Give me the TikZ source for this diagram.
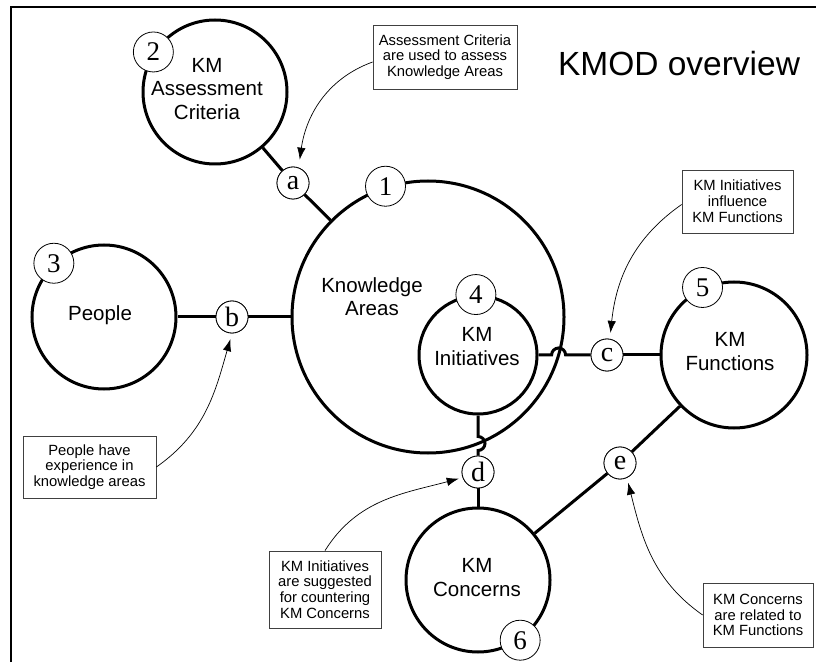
\documentclass[tikz,border=0pt]{standalone}
\usepackage{fontspec}
\setmainfont{Liberation Sans}
\newfontfamily\tagfont{Liberation Serif}
\usetikzlibrary{arrows.meta}

\begin{document}
\begin{tikzpicture}[x=1pt,y=1pt,
  big/.style={circle, draw, line width=3pt, inner sep=0pt, minimum size=#1},
  tag/.style={circle, draw, line width=0.8pt, fill=white, inner sep=0pt,
    minimum size=40pt, font=\tagfont\fontsize{27}{27}\selectfont},
  rel/.style={circle, draw, line width=0.8pt, fill=white, inner sep=0pt,
    minimum size=32pt, font=\tagfont\fontsize{28}{28}\selectfont},
  link/.style={line width=3pt},
  caption/.style={align=center, inner sep=0pt, font=\fontsize{20.5}{23.5}\selectfont},
  note/.style={draw=black!75, line width=0.8pt, align=center, inner sep=0pt,
    font=\fontsize{14.8}{15.8}\selectfont},
  callout/.style={line width=0.7pt, -{Latex[length=12pt,width=8.5pt]}},
]
\useasboundingbox (0,0) rectangle (816,662);

% frame lines along the top and the left
\draw[line width=1.3pt] (11,0) -- (11,655) -- (816,655);

% title
\node[anchor=base, inner sep=0pt, font=\fontsize{33.5}{33.5}\selectfont] (title) at (679,586) {KMOD overview};

% main entity circles
\node[big=272pt] (c1) at (428,345) {};
\node[big=144pt] (c2) at (215,570) {};
\node[big=144pt] (c3) at (104,345) {};
\node[big=118pt] (c4) at (478,307) {};
\node[big=146pt] (c5) at (734,307) {};
\node[big=144pt] (c6) at (478,82) {};

% entity names
\node[caption] (t1) at (372,365.5) {Knowledge\\Areas};
\node[caption] (t2) at (207,573) {KM\\Assessment\\Criteria};
\node[caption] (t3) at (100,347) {People};
\node[caption] (t4) at (477,315.5) {KM\\Initiatives};
\node[caption] (t5) at (730,310.5) {KM\\Functions};
\node[caption] (t6) at (477,84.5) {KM\\Concerns};

% relation markers
\node[rel] (a) at (293,479) {a};
\node[rel] (b) at (232,345) {b};
\node[rel] (c) at (607,307) {c};
\node[rel] (d) at (478,190) {d};
\node[rel] (e) at (620,199) {e};

% crossing points with the Knowledge Areas circle
\coordinate (hopc) at (558.6,307);
\coordinate (hopd) at (478,218.5);

% relations
\draw[link] (c2) -- (a) -- (c1);
\draw[link] (c3) -- (b) -- (c1);
\draw[link] (c4.east) -- ([xshift=-7pt]hopc) arc[start angle=180, end angle=0, radius=7pt] -- (c.west);
\draw[link] (c) -- (c5);
\draw[link] (c4.south) -- ([yshift=7pt]hopd) arc[start angle=90, end angle=-90, radius=7pt] -- (d.north);
\draw[link] (d) -- (c6);
\draw[link] (c6) -- (e) -- (c5);

% redraw markers on top of the relation lines
\node[rel] at (a) {a};
\node[rel] at (b) {b};
\node[rel] at (c) {c};
\node[rel] at (d) {d};
\node[rel] at (e) {e};

% number tags on the entity circles
\node[tag] (n1) at (c1.108) {1};
\node[tag] (n2) at (c2.147) {2};
\node[tag] (n3) at (c3.133) {3};
\node[tag] (n4) at (c4.92) {4};
\node[tag] (n5) at (c5.115) {5};
\node[tag] (n6) at (c6.-55) {6};

% explanatory notes
\node[note, minimum width=144pt, minimum height=64pt] (na) at (445,605)
  {Assessment Criteria\\are used to assess\\Knowledge Areas};
\node[note, minimum width=133pt, minimum height=62pt] (nb) at (89.5,195)
  {People have\\experience in\\knowledge areas};
\node[note, minimum width=111pt, minimum height=63pt] (nc) at (737.5,460.5)
  {KM Initiatives\\influence\\KM Functions};
\node[note, minimum width=112pt, minimum height=77pt] (nd) at (325,72.5)
  {KM Initiatives\\are suggested\\for countering\\KM Concerns};
\node[note, minimum width=110pt, minimum height=64pt] (ne) at (758,47)
  {KM Concerns\\are related to\\KM Functions};

% note arrows
\draw[callout, shorten >=8pt] ([yshift=-5pt]na.west) to[out=200, in=82] (a.70);
\draw[callout, shorten >=6pt] (nb.east) to[out=35, in=-106] (b.south);
\draw[callout, shorten >=6pt] ([yshift=-3pt]nc.west) to[out=215, in=84] (c.80);
\draw[callout, shorten >=4pt] (nd.north) to[out=58, in=195] (d.200);
\draw[callout, shorten >=5pt] (ne.west) to[out=145, in=-76] (e.-65);

\end{tikzpicture}
\end{document}
